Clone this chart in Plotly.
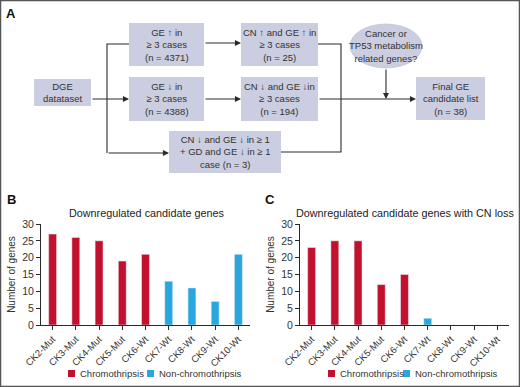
import plotly.graph_objects as go

# ---------------- data ----------------
categories = ["CK2-Mut", "CK3-Mut", "CK4-Mut", "CK5-Mut", "CK6-Wt",
              "CK7-Wt", "CK8-Wt", "CK9-Wt", "CK10-Wt"]
chromo_cats = categories[:5]
nonchromo_cats = categories[5:]
down_all_chromo = [27, 26, 25, 19, 21]
down_all_nonchromo = [13, 11, 7, 21]
down_cnloss_chromo = [23, 25, 25, 12, 15]
down_cnloss_nonchromo = [2, 0, 0, 0]
y_ticks = [0, 5, 10, 15, 20, 25, 30]
legend_names = ["Chromothripsis", "Non-chromothripsis"]

# ---------------- styles ----------------
W, H = 520, 387
RED = "#c3102f"
BLUE = "#2aa6df"
BOX = "#cbcde0"
LINE = "#2a2a2a"
TXT = "#333333"
FONT = "Liberation Sans, Arial, sans-serif"


def px(x):
    return x / W


def py(y):
    return 1 - y / H


fig = go.Figure()

# bars panel B
fig.add_trace(go.Bar(x=chromo_cats, y=down_all_chromo, marker_color=RED, width=0.34,
                     name=legend_names[0], xaxis="x", yaxis="y"))
fig.add_trace(go.Bar(x=nonchromo_cats, y=down_all_nonchromo, marker_color=BLUE, width=0.34,
                     name=legend_names[1], xaxis="x", yaxis="y"))
# bars panel C
fig.add_trace(go.Bar(x=chromo_cats, y=down_cnloss_chromo, marker_color=RED, width=0.34,
                     name=legend_names[0], xaxis="x2", yaxis="y2"))
fig.add_trace(go.Bar(x=nonchromo_cats, y=down_cnloss_nonchromo, marker_color=BLUE, width=0.34,
                     name=legend_names[1], xaxis="x2", yaxis="y2"))

xcommon = dict(type="category", categoryorder="array", categoryarray=categories,
               tickangle=-45, showline=True, linecolor=LINE, linewidth=1,
               ticks="outside", ticklen=4, tickcolor=LINE, showgrid=False, automargin=False,
               tickfont=dict(size=9.5, color=TXT, family=FONT), range=[-0.5, 8.5])
ycommon = dict(range=[0, 30], tickvals=y_ticks, showline=True, linecolor=LINE, linewidth=1,
               ticks="outside", ticklen=4, tickcolor=LINE, showgrid=False, zeroline=False,
               automargin=False,
               tickfont=dict(size=10.5, color=TXT, family=FONT),
               title=dict(text="Number of genes", standoff=4,
                          font=dict(size=10, color=TXT,
                                    family="Liberation Sans Narrow, Arial Narrow, " + FONT)))

y_dom = [py(325), py(224)]
fig.update_layout(
    xaxis=dict(domain=[px(41), px(250)], anchor="y", **xcommon),
    yaxis=dict(domain=y_dom, anchor="x", **ycommon),
    xaxis2=dict(domain=[px(300), px(509)], anchor="y2", **xcommon),
    yaxis2=dict(domain=y_dom, anchor="x2", **ycommon),
)

# ---------------- flowchart shapes ----------------
shapes = []
annotations = []


def label(x, y, text, size=9.5, color=TXT, xanchor="center"):
    annotations.append(dict(xref="paper", yref="paper", x=px(x), y=py(y),
                            text=text, showarrow=False, xanchor=xanchor, yanchor="middle",
                            font=dict(size=size, color=color, family=FONT)))


def box(x0, y0, x1, y1, text):
    shapes.append(dict(type="rect", xref="paper", yref="paper",
                       x0=px(x0), x1=px(x1), y0=py(y1), y1=py(y0),
                       fillcolor=BOX, line=dict(width=0), layer="below"))
    label((x0 + x1) / 2, (y0 + y1) / 2, text)


def line(pts):
    path = "M " + " L ".join(f"{px(x)},{py(y)}" for x, y in pts)
    shapes.append(dict(type="path", xref="paper", yref="paper", path=path,
                       line=dict(color=LINE, width=1.1)))


def arrow(x0, y0, x1, y1):
    annotations.append(dict(xref="paper", yref="paper", x=px(x1), y=py(y1),
                            ax=x0 - x1, ay=y0 - y1, axref="pixel", ayref="pixel",
                            text="", showarrow=True, arrowhead=2, arrowsize=1.1,
                            arrowwidth=1.1, arrowcolor=LINE, standoff=0, startstandoff=0))


box(34, 79, 91, 106, "DGE<br>datataset")
box(129, 23, 204, 66, "GE ↑ in<br>≥ 3 cases<br>(n = 4371)")
box(129, 77, 204, 121, "GE ↓ in<br>≥ 3 cases<br>(n = 4388)")
box(241, 23, 318, 66, "CN ↑ and GE ↑ in<br>≥ 3 cases<br>(n = 25)")
box(241, 77, 318, 121, "CN ↓ and GE ↓in<br>≥ 3 cases<br>(n = 194)")
box(416, 77, 485, 120, "Final GE<br>candidate list<br>(n = 38)")
box(169, 131, 281, 173, "CN ↓ and GE ↓ in ≥ 1<br>+ GD and GE ↓ in ≥ 1<br>case (n = 3)")

shapes.append(dict(type="circle", xref="paper", yref="paper",
                   x0=px(350), x1=px(422), y0=py(68), y1=py(24),
                   fillcolor=BOX, line=dict(color="#b8bad0", width=0.6), layer="below"))
label(386, 46, "Cancer or<br>TP53 metabolism<br>related genes?")

# connectors
arrow(91, 99, 129, 99)
line([(129, 44), (107, 44), (107, 153)])
arrow(107, 153, 169, 153)
arrow(204, 43, 241, 43)
arrow(204, 99, 241, 99)
line([(318, 44), (341, 44), (341, 152), (281, 152)])
arrow(318, 99, 416, 99)
arrow(386, 68, 386, 99)

# panel labels
for lbl, x, y in [("A", 11, 14), ("B", 11, 200), ("C", 270, 200)]:
    label(x, y, f"<b>{lbl}</b>", size=13, color="#111")

# panel titles
label(146, 213, "Downregulated candidate genes", size=10.8, color="#222")
label(405, 213, "Downregulated candidate genes with CN loss", size=10.8, color="#222")

# legends (swatch + label) under each bar panel
for sq_r, sq_b in [(68, 147), (328, 403)]:
    for sx, name, col in [(sq_r, legend_names[0], RED), (sq_b, legend_names[1], BLUE)]:
        shapes.append(dict(type="rect", xref="paper", yref="paper",
                           x0=px(sx), x1=px(sx + 7), y0=py(377), y1=py(370),
                           fillcolor=col, line=dict(width=0)))
        label(sx + 10, 373.5, name, xanchor="left")

# outer frame
shapes.append(dict(type="rect", xref="paper", yref="paper", x0=0, x1=1, y0=0, y1=1,
                   line=dict(color="#555", width=2.5), fillcolor="rgba(0,0,0,0)"))

fig.update_layout(
    width=W, height=H, margin=dict(l=0, r=0, t=0, b=0, autoexpand=False),
    paper_bgcolor="white", plot_bgcolor="white",
    barmode="overlay", showlegend=False,
    shapes=shapes, annotations=annotations,
)

fig.write_html("out.html", config={"displayModeBar": False},
               post_script="document.body.style.margin='0';")
